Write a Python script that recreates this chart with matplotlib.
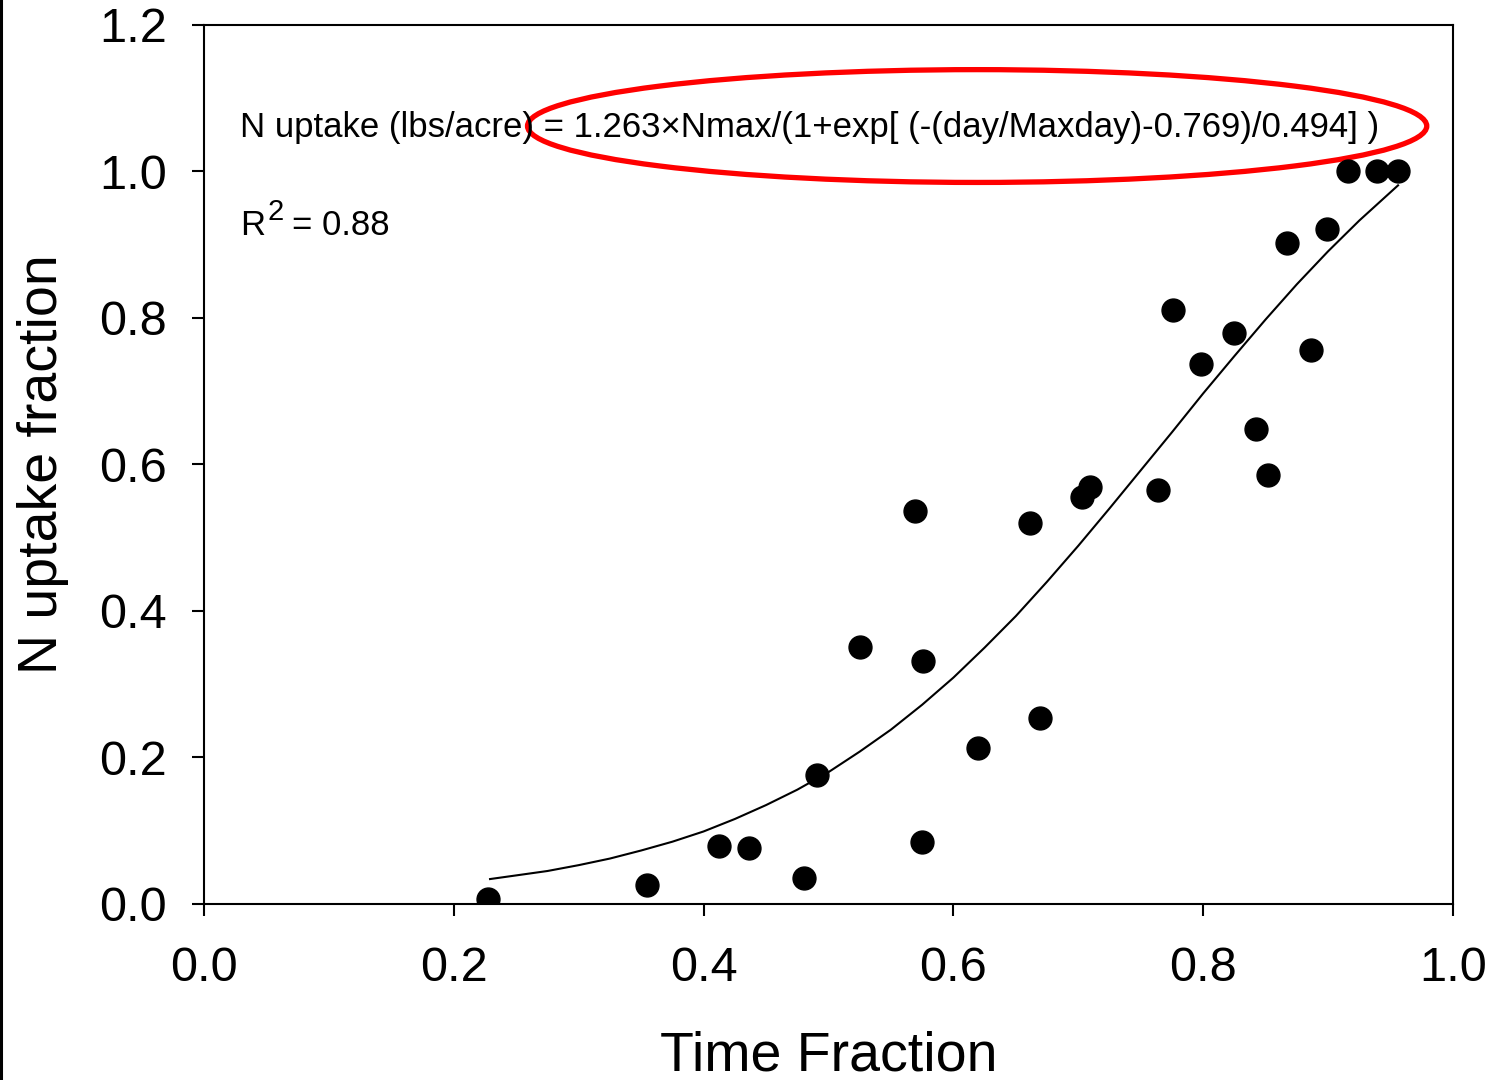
import numpy as np
import matplotlib.pyplot as plt
from matplotlib.patches import Ellipse
from matplotlib.lines import Line2D

plt.rcParams['font.family'] = ['Liberation Sans', 'DejaVu Sans']

time_frac = [0.227, 0.355, 0.412, 0.436, 0.480, 0.491, 0.525, 0.569, 0.576,
             0.575, 0.620, 0.661, 0.669, 0.703, 0.709, 0.764, 0.776, 0.798,
             0.825, 0.842, 0.852, 0.867, 0.886, 0.899, 0.916, 0.939, 0.956]
n_frac = [0.007, 0.026, 0.079, 0.076, 0.035, 0.176, 0.351, 0.537, 0.332,
          0.085, 0.213, 0.520, 0.254, 0.556, 0.569, 0.565, 0.811, 0.737,
          0.780, 0.648, 0.586, 0.902, 0.756, 0.922, 1.000, 1.000, 1.000]

# fitted curve
fit_x = [0.229, 0.25, 0.275, 0.30, 0.325, 0.35, 0.375, 0.40, 0.425, 0.45,
         0.475, 0.50, 0.525, 0.55, 0.575, 0.60, 0.625, 0.65, 0.675, 0.70,
         0.725, 0.75, 0.775, 0.80, 0.825, 0.85, 0.875, 0.90, 0.925, 0.956]
fit_y = [0.034, 0.039, 0.045, 0.053, 0.062, 0.073, 0.085, 0.099, 0.116, 0.135,
         0.156, 0.180, 0.208, 0.238, 0.272, 0.309, 0.350, 0.393, 0.440, 0.489,
         0.540, 0.592, 0.644, 0.697, 0.748, 0.798, 0.846, 0.891, 0.933, 0.981]

eq_text = "N uptake (lbs/acre) = 1.263\u00d7Nmax/(1+exp[ (-(day/Maxday)-0.769)/0.494] )"

fig = plt.figure(figsize=(14.97, 10.8), dpi=100)
ax = fig.add_axes([0.1363, 0.163, 0.8343, 0.8139])

ax.plot(fit_x, fit_y, color='black', lw=1.5)
ax.plot(time_frac, n_frac, 'o', color='black', ms=16.5, zorder=3)

ax.set_xlim(0, 1.0)
ax.set_ylim(0, 1.2)
ax.set_xticks(np.arange(0, 1.01, 0.2))
ax.set_yticks(np.arange(0, 1.21, 0.2))
ax.xaxis.set_major_formatter(plt.FormatStrFormatter('%.1f'))
ax.yaxis.set_major_formatter(plt.FormatStrFormatter('%.1f'))
ax.tick_params(direction='out', length=8.5, width=1.5, labelsize=35)
ax.tick_params(axis='x', pad=22)
ax.tick_params(axis='y', pad=18)
for s in ax.spines.values():
    s.set_linewidth(1.5)

ax.set_xlabel("Time Fraction", fontsize=40, labelpad=28)
ax.set_ylabel("N uptake fraction", fontsize=40, labelpad=22)

ax.text(0.029, 1.060, eq_text, fontsize=25, va='center', ha='left')

# R^2 label, superscript drawn as its own text
r_txt = ax.text(0.029, 0.926, "R", fontsize=25, va='center', ha='left')
sup = ax.annotate("2", xy=(1, 1), xycoords=r_txt, xytext=(1.5, 8),
                  textcoords='offset points', fontsize=21, va='top', ha='left')
ax.annotate("= 0.88", xy=(1, 0), xycoords=(sup, r_txt), xytext=(6, 0),
            textcoords='offset points', fontsize=25, va='bottom', ha='left')

ell = Ellipse((0.619, 1.062), 0.720, 0.154, fill=False, edgecolor='#ff0000',
              lw=3.8, clip_on=False)
ax.add_patch(ell)

# border line at the left edge of the image
fig.add_artist(Line2D([0.001, 0.001], [0, 1], color='black', lw=2.2,
                      transform=fig.transFigure))

fig.savefig("out.png", dpi=100)
